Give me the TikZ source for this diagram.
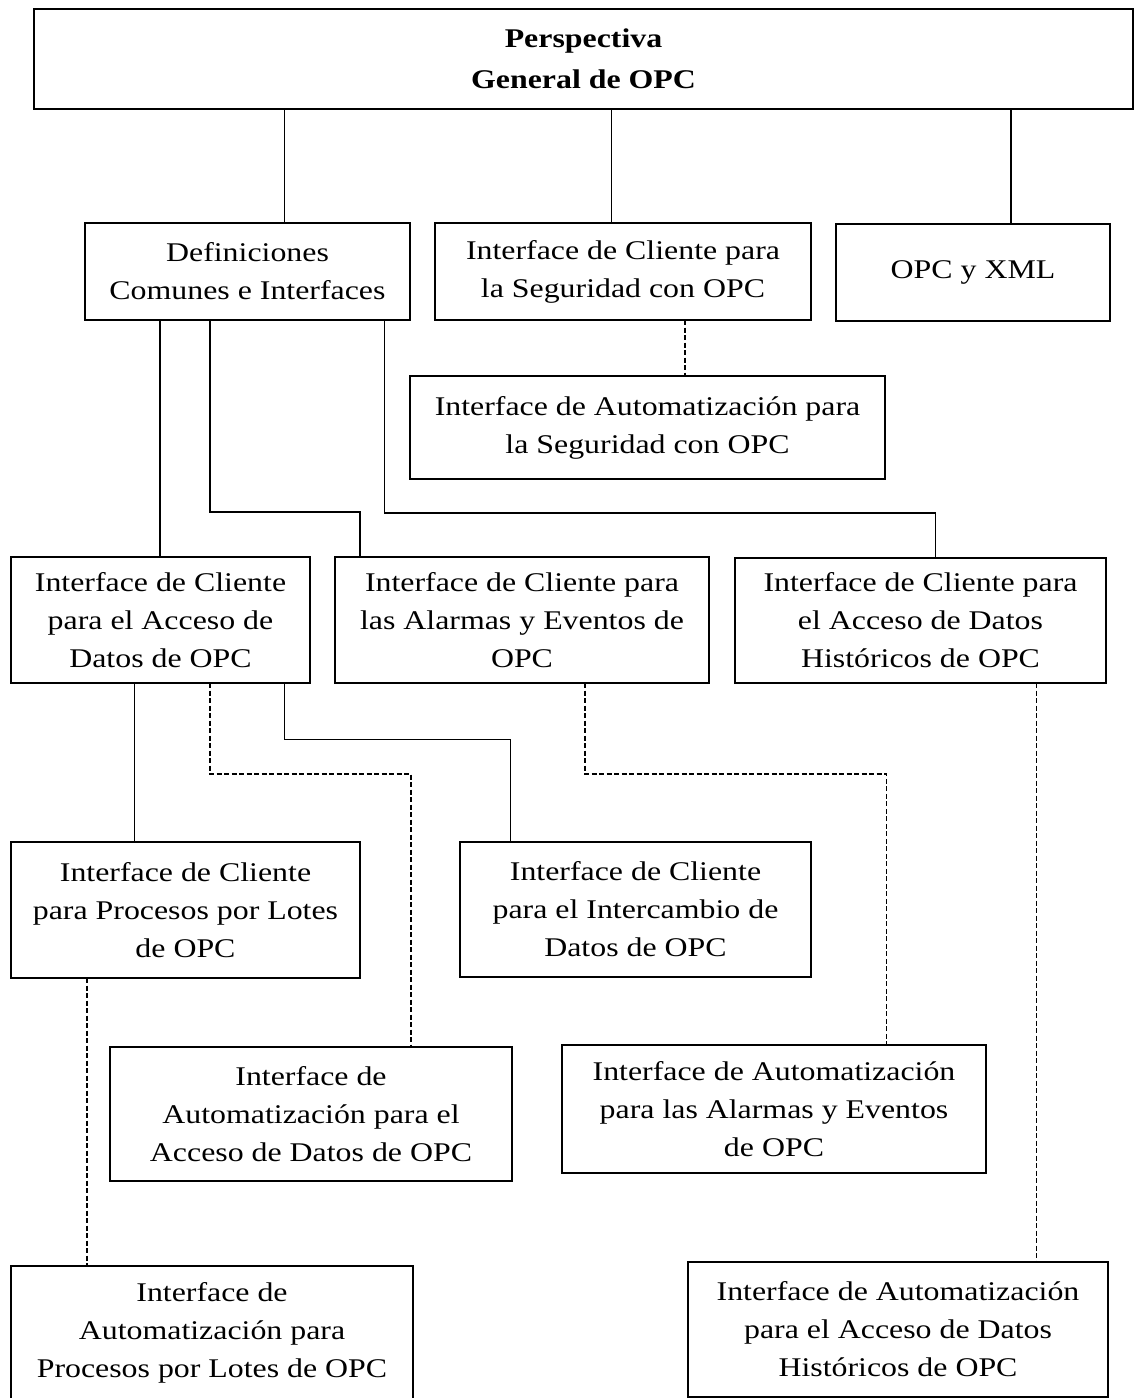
\documentclass[tikz,border=0pt]{standalone}
\usepackage{fontspec}
\setmainfont{Liberation Serif}[FakeStretch=1.18]
\begin{document}
\begin{tikzpicture}[x=1pt,y=-1pt,
  box/.style={draw, line width=1.5pt, align=center, inner sep=0pt, outer sep=0pt,
    font=\fontsize{27}{38}\selectfont},
  link/.style={line width=1.1pt},
  dlink/.style={line width=1.1pt, dash pattern=on 5pt off 2.5pt}]
\useasboundingbox (0,0) rectangle (1135,1398);

% boxes
\node[box, minimum width=1099pt, minimum height=100pt,
  font=\fontsize{27}{41}\selectfont\bfseries] (top) at (583.5,59)
  {Perspectiva\\General de OPC};
\node[box, minimum width=325pt, minimum height=97pt] (def) at (247.5,271.5)
  {Definiciones\\Comunes e Interfaces};
\node[box, minimum width=376pt, minimum height=97pt] (cseg) at (623,271.5)
  {Interface de Cliente para\\la Seguridad con OPC};
\node[box, minimum width=274pt, minimum height=97pt] (xml) at (973,272.5)
  {OPC y XML};
\node[box, minimum width=475pt, minimum height=103pt] (aseg) at (647.5,427.5)
  {Interface de Automatización para\\la Seguridad con OPC};
\node[box, minimum width=299pt, minimum height=126pt] (acc) at (160.5,620)
  {Interface de Cliente\\para el Acceso de\\Datos de OPC};
\node[box, minimum width=374pt, minimum height=126pt] (alm) at (522,620)
  {Interface de Cliente para\\las Alarmas y Eventos de\\OPC};
\node[box, minimum width=371pt, minimum height=125pt] (his) at (920.5,620.5)
  {Interface de Cliente para\\el Acceso de Datos\\Históricos de OPC};
\node[box, minimum width=349pt, minimum height=136pt] (lot) at (185.5,910)
  {Interface de Cliente\\para Procesos por Lotes\\de OPC};
\node[box, minimum width=351pt, minimum height=135pt] (int) at (635.5,909.5)
  {Interface de Cliente\\para el Intercambio de\\Datos de OPC};
\node[box, minimum width=402pt, minimum height=134pt] (aacc) at (311,1114)
  {Interface de\\Automatización para el\\Acceso de Datos de OPC};
\node[box, minimum width=424pt, minimum height=128pt] (aalm) at (774,1109)
  {Interface de Automatización\\para las Alarmas y Eventos\\de OPC};
\node[box, minimum width=402pt, minimum height=134pt] (alot) at (212,1333)
  {Interface de\\Automatización para\\Procesos por Lotes de OPC};
\node[box, minimum width=420pt, minimum height=135pt] (ahis) at (898,1329.5)
  {Interface de Automatización\\para el Acceso de Datos\\Históricos de OPC};

% connectors from the overview
\draw[link] (top.south -| 284.5,0) -- (def.north -| 284.5,0);
\draw[link] (top.south -| 611.7,0) -- (cseg.north -| 611.7,0);
\draw[link] (top.south -| 1011,0) -- (xml.north -| 1011,0);
\draw[dlink] (cseg.south -| 685,0) -- (aseg.north -| 685,0);

% connectors from the common definitions
\draw[link] (def.south -| 160,0) -- (acc.north -| 160,0);
\draw[link] (def.south -| 210,0) |- (360,512) -- (alm.north -| 360,0);
\draw[link] (def.south -| 384.4,0) |- (935.2,513) -- (his.north -| 935.2,0);

% connectors from the client interfaces
\draw[link] (acc.south -| 134.6,0) -- (lot.north -| 134.6,0);
\draw[dlink] (acc.south -| 210,0) |- (411,774) -- (aacc.north -| 411,0);
\draw[link] (acc.south -| 284.5,0) |- (510.3,739.5) -- (int.north -| 510.3,0);
\draw[dlink] (alm.south -| 585,0) |- (886.7,774) -- (aalm.north -| 886.7,0);
\draw[dlink] (his.south -| 1036.6,0) -- (ahis.north -| 1036.6,0);
\draw[dlink] (lot.south -| 87,0) -- (alot.north -| 87,0);
\end{tikzpicture}
\end{document}
